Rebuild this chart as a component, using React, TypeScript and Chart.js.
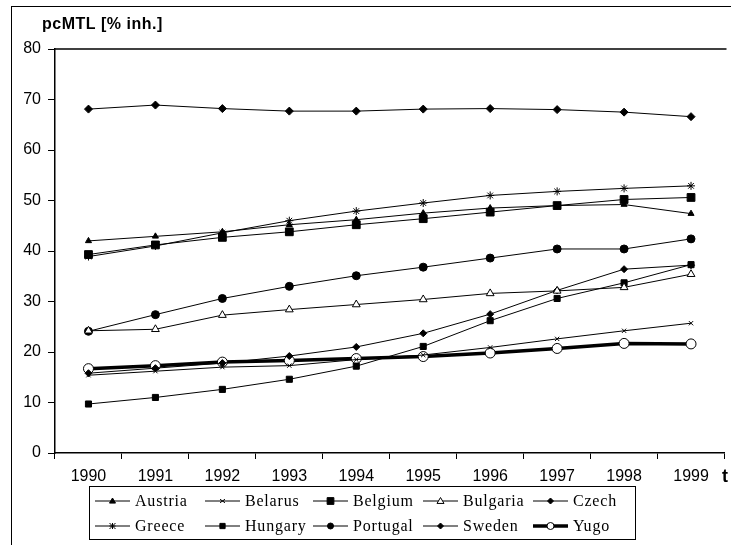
import React, { useEffect, useRef } from "react";
import { Chart, registerables } from "chart.js";

Chart.register(...registerables);

const years = ["1990", "1991", "1992", "1993", "1994", "1995", "1996", "1997", "1998", "1999"];

const austria = [42.0, 42.9, 43.8, 45.2, 46.2, 47.5, 48.5, 49.0, 49.2, 47.4];
const belarus = [15.4, 16.2, 17.0, 17.3, 18.5, 19.4, 20.9, 22.6, 24.2, 25.7];
const belgium = [39.3, 41.2, 42.7, 43.8, 45.2, 46.4, 47.7, 49.0, 50.2, 50.6];
const bulgaria = [24.2, 24.5, 27.3, 28.4, 29.4, 30.4, 31.6, 32.1, 32.8, 35.4];
const czech = [15.8, 16.8, 17.8, 19.2, 21.0, 23.7, 27.5, 32.2, 36.4, 37.2];
const greece = [38.9, 41.0, 43.6, 46.0, 47.9, 49.5, 51.0, 51.8, 52.4, 52.9];
const hungary = [9.7, 11.0, 12.6, 14.6, 17.2, 21.1, 26.2, 30.6, 33.7, 37.3];
const portugal = [24.1, 27.4, 30.6, 33.0, 35.1, 36.8, 38.6, 40.4, 40.4, 42.4];
const sweden = [68.1, 68.9, 68.2, 67.7, 67.7, 68.1, 68.2, 68.0, 67.5, 66.6];
const yugo = [16.7, 17.3, 18.0, 18.3, 18.7, 19.1, 19.8, 20.7, 21.7, 21.6];

const yTicks = [0, 10, 20, 30, 40, 50, 60, 70, 80];
const titleText = "pcMTL [% inh.]";
const xTitleText = "t";

type Spec = {
  label: string;
  data: number[];
  style: string;
  radius: number;
  fill: string;
  width: number;
  legendRadius: number;
};

const series: Spec[] = [
  { label: "Austria", data: austria, style: "triangle", radius: 3.5, fill: "#000", width: 1, legendRadius: 3 },
  { label: "Belarus", data: belarus, style: "crossRot", radius: 3, fill: "#000", width: 1, legendRadius: 2.5 },
  { label: "Belgium", data: belgium, style: "rect", radius: 5.5, fill: "#000", width: 1, legendRadius: 4.5 },
  { label: "Bulgaria", data: bulgaria, style: "triangle", radius: 4.5, fill: "#fff", width: 1, legendRadius: 3.5 },
  { label: "Czech", data: czech, style: "rectRot", radius: 3.5, fill: "#000", width: 1, legendRadius: 3 },
  { label: "Greece", data: greece, style: "star", radius: 4, fill: "#000", width: 1, legendRadius: 3 },
  { label: "Hungary", data: hungary, style: "rect", radius: 4.3, fill: "#000", width: 1, legendRadius: 3.5 },
  { label: "Portugal", data: portugal, style: "circle", radius: 4, fill: "#000", width: 1, legendRadius: 3 },
  { label: "Sweden", data: sweden, style: "rectRot", radius: 4, fill: "#000", width: 1, legendRadius: 3 },
  { label: "Yugo", data: yugo, style: "circle", radius: 5, fill: "#fff", width: 3.5, legendRadius: 3.5 },
];

function drawMarker(ctx: CanvasRenderingContext2D, style: string, x: number, y: number, r: number, fill: string) {
  ctx.save();
  ctx.fillStyle = fill;
  ctx.strokeStyle = "#000";
  ctx.lineWidth = 1;
  ctx.beginPath();
  if (style === "triangle") {
    ctx.moveTo(x, y - r);
    ctx.lineTo(x + r, y + r * 0.7);
    ctx.lineTo(x - r, y + r * 0.7);
    ctx.closePath();
    ctx.fill();
    ctx.stroke();
  } else if (style === "rect") {
    ctx.rect(x - r * 0.75, y - r * 0.75, r * 1.5, r * 1.5);
    ctx.fill();
    ctx.stroke();
  } else if (style === "rectRot") {
    ctx.moveTo(x, y - r);
    ctx.lineTo(x + r, y);
    ctx.lineTo(x, y + r);
    ctx.lineTo(x - r, y);
    ctx.closePath();
    ctx.fill();
    ctx.stroke();
  } else if (style === "circle") {
    ctx.arc(x, y, r, 0, Math.PI * 2);
    ctx.fill();
    ctx.stroke();
  } else if (style === "crossRot") {
    ctx.moveTo(x - r, y - r * 0.7);
    ctx.lineTo(x + r, y + r * 0.7);
    ctx.moveTo(x - r, y + r * 0.7);
    ctx.lineTo(x + r, y - r * 0.7);
    ctx.stroke();
  } else if (style === "star") {
    ctx.moveTo(x - r, y - r);
    ctx.lineTo(x + r, y + r);
    ctx.moveTo(x - r, y + r);
    ctx.lineTo(x + r, y - r);
    ctx.moveTo(x, y - r);
    ctx.lineTo(x, y + r);
    ctx.moveTo(x - r, y);
    ctx.lineTo(x + r, y);
    ctx.stroke();
  }
  ctx.restore();
}

const decorPlugin = {
  id: "decor",
  afterDraw(chart: any) {
    const ctx: CanvasRenderingContext2D = chart.ctx;
    const area = chart.chartArea;
    ctx.save();
    // outer frame
    ctx.strokeStyle = "#000";
    ctx.lineWidth = 1;
    ctx.strokeRect(11.5, 6.5, 900, 900);
    // plot top border
    ctx.beginPath();
    ctx.lineWidth = 1.5;
    ctx.moveTo(area.left, area.top);
    ctx.lineTo(area.right + 2, area.top);
    ctx.stroke();
    // title
    ctx.fillStyle = "#000";
    ctx.font = "bold 16px 'Liberation Sans', Arial, sans-serif";
    (ctx as any).letterSpacing = "0.5px";
    ctx.textAlign = "left";
    ctx.textBaseline = "middle";
    ctx.fillText(titleText, 42, 25);
    // x title
    ctx.font = "bold 18px 'Liberation Sans', Arial, sans-serif";
    ctx.fillText(xTitleText, 722, 477);
    // legend box
    const bx = 89.5, by = 486.5, bw = 546, bh = 53;
    ctx.lineWidth = 1;
    ctx.strokeRect(bx, by, bw, bh);
    const colX = [95, 205, 313, 423, 533];
    const rowY = [501, 526];
    ctx.font = "16px 'Liberation Serif', 'Times New Roman', serif";
    (ctx as any).letterSpacing = "0.8px";
    ctx.textBaseline = "middle";
    series.forEach((s, i) => {
      const col = i % 5;
      const row = Math.floor(i / 5);
      const x0 = colX[col];
      const y0 = rowY[row];
      ctx.beginPath();
      ctx.strokeStyle = "#000";
      ctx.lineWidth = s.width;
      ctx.moveTo(x0, y0);
      ctx.lineTo(x0 + 35, y0);
      ctx.stroke();
      drawMarker(ctx, s.style, x0 + 17.5, y0, s.legendRadius, s.fill);
      ctx.fillStyle = "#000";
      ctx.fillText(s.label, x0 + 40, y0 + 1);
    });
    ctx.restore();
  },
};

export default function App() {
  const ref = useRef<HTMLCanvasElement | null>(null);
  useEffect(() => {
    document.body.style.margin = "0";
    if (!ref.current) return;
    const chart = new Chart(ref.current, {
      type: "line",
      data: {
        labels: years,
        datasets: series.map((s) => ({
          label: s.label,
          data: s.data,
          borderColor: "#000",
          borderWidth: s.width,
          backgroundColor: s.fill,
          pointStyle: s.style as any,
          pointRadius: s.radius,
          pointBackgroundColor: s.fill,
          pointBorderColor: "#000",
          pointBorderWidth: 1,
          tension: 0,
          fill: false,
        })),
      },
      options: {
        animation: false,
        responsive: false,
        maintainAspectRatio: false,
        layout: { padding: { left: 0, top: 49, right: 0, bottom: 60 } },
        plugins: {
          legend: { display: false },
          title: { display: false },
          tooltip: { enabled: false },
        },
        scales: {
          x: {
            type: "category",
            offset: true,
            afterFit: (scale: any) => {
              scale.height = 32;
            },
            grid: {
              offset: true,
              drawOnChartArea: false,
              drawTicks: true,
              tickLength: 6,
              color: "#000",
            },
            border: { display: true, color: "#000", width: 1.5 },
            ticks: {
              color: "#000",
              padding: 8,
              maxRotation: 0,
              autoSkip: false,
              font: { family: "'Liberation Sans', Arial, sans-serif", size: 16 },
            },
          },
          y: {
            min: 0,
            max: 80,
            afterFit: (scale: any) => {
              scale.width = 55;
            },
            afterBuildTicks: (scale: any) => {
              scale.ticks = yTicks.map((v) => ({ value: v }));
            },
            grid: {
              drawOnChartArea: false,
              drawTicks: true,
              tickLength: 7,
              color: "#000",
            },
            border: { display: true, color: "#000", width: 1.5 },
            ticks: {
              color: "#000",
              padding: 7,
              font: { family: "'Liberation Sans', Arial, sans-serif", size: 16 },
            },
          },
        },
      },
      plugins: [decorPlugin],
    });
    return () => chart.destroy();
  }, []);
  return (
    <div style={{ width: 731, height: 545, position: "relative" }}>
      <canvas ref={ref} width={731} height={545} style={{ display: "block" }} />
    </div>
  );
}
